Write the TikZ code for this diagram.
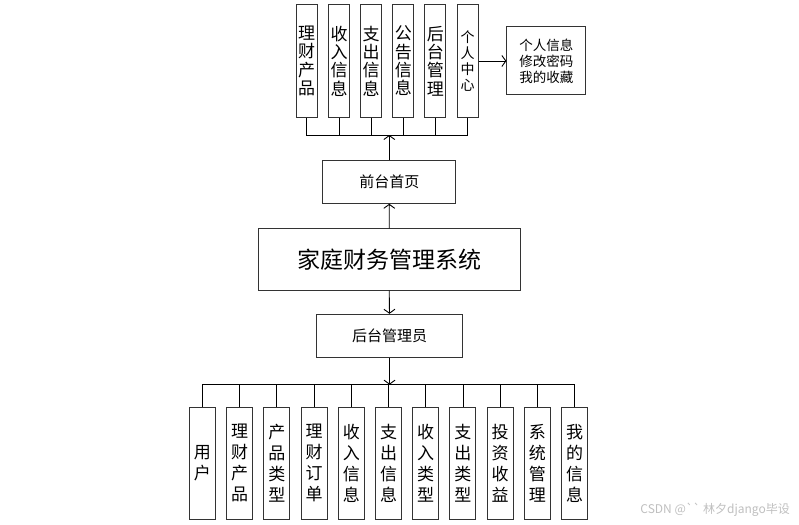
\documentclass[tikz,border=0pt]{standalone}
\usepackage{fontspec}
\newfontfamily\cjk{Noto Sans CJK SC}
\newfontfamily\wmfont{Noto Sans CJK SC}
\usetikzlibrary{arrows.meta}
\tikzset{
  box/.style={draw=black!80, line width=1pt, fill=white, inner sep=0pt, align=center},
  topv/.style={box, minimum width=21pt, minimum height=112pt, font=\cjk\fontsize{17}{18.3}\selectfont},
  topvs/.style={box, minimum width=21pt, minimum height=112pt, font=\cjk\fontsize{14}{16}\selectfont},
  botv/.style={box, minimum width=26pt, minimum height=112pt, font=\cjk\fontsize{17}{21}\selectfont},
  midbox/.style={box, font=\cjk\fontsize{15}{18}\selectfont},
  conn/.style={black, line width=0.9pt},
  arr/.style={conn, -{Straight Barb[length=4pt,width=11pt]}},
}
\begin{document}
\begin{tikzpicture}[x=1pt,y=-1pt]
\useasboundingbox (0,0) rectangle (799,524);
% top boxes
\node[topv] (t1) at (306.5,61) {理\\财\\产\\品};
\node[topv] (t2) at (339,61) {收\\入\\信\\息};
\node[topv] (t3) at (371.2,61) {支\\出\\信\\息};
\node[topv] (t4) at (403.3,61) {公\\告\\信\\息};
\node[topv] (t5) at (435.4,61) {后\\台\\管\\理};
\node[topvs] (t6) at (467.7,61) {个\\人\\中\\心};
\node[box, minimum width=79pt, minimum height=68pt, font=\cjk\fontsize{13.5}{16}\selectfont] (info) at (546.4,61) {个人信息\\修改密码\\我的收藏};
\draw[arr] (t6.east) -- (info.west);
% middle
\node[midbox, minimum width=133pt, minimum height=42.6pt] (home) at (389.3,182) {前台首页};
\node[box, minimum width=261.7pt, minimum height=61.3pt, font=\cjk\fontsize{23}{26}\selectfont] (main) at (389.2,259.4) {家庭财务管理系统};
\node[midbox, minimum width=145.6pt, minimum height=43pt] (admin) at (389.5,335.8) {后台管理员};
\coordinate (topbus) at (389.3,135);
\draw[conn] (t1.south) -- (t1.south |- topbus) -- (t6.south |- topbus) -- (t6.south);
\foreach \n in {t2,t3,t4,t5} \draw[conn] (\n.south) -- (\n.south |- topbus);
\draw[arr] (home.north) -- (topbus);
\draw[arr] (main.north) -- (home.south);
\draw[arr] (main.south) -- (admin.north);
% bottom boxes
\foreach \i/\t in {1/{用\\户},2/{理\\财\\产\\品},3/{产\\品\\类\\型},4/{理\\财\\订\\单},5/{收\\入\\信\\息},6/{支\\出\\信\\息},7/{收\\入\\类\\型},8/{支\\出\\类\\型},9/{投\\资\\收\\益},10/{系\\统\\管\\理},11/{我\\的\\信\\息}}
  \node[botv] (b\i) at ({202.3+37.24*(\i-1)},463.2) {\t};
\coordinate (botbus) at (389.5,384.7);
\draw[conn] (b1.north) -- (b1.north |- botbus) -- (b11.north |- botbus) -- (b11.north);
\foreach \i in {2,...,10} \draw[conn] (b\i.north) -- (b\i.north |- botbus);
\draw[arr] (admin.south) -- (botbus);
% watermark
\node[anchor=east, text=black!25, font=\wmfont\fontsize{12}{14}\selectfont, inner sep=0pt] (wm) at (790,510) {CSDN @`` 林夕django毕设};
\end{tikzpicture}
\end{document}
